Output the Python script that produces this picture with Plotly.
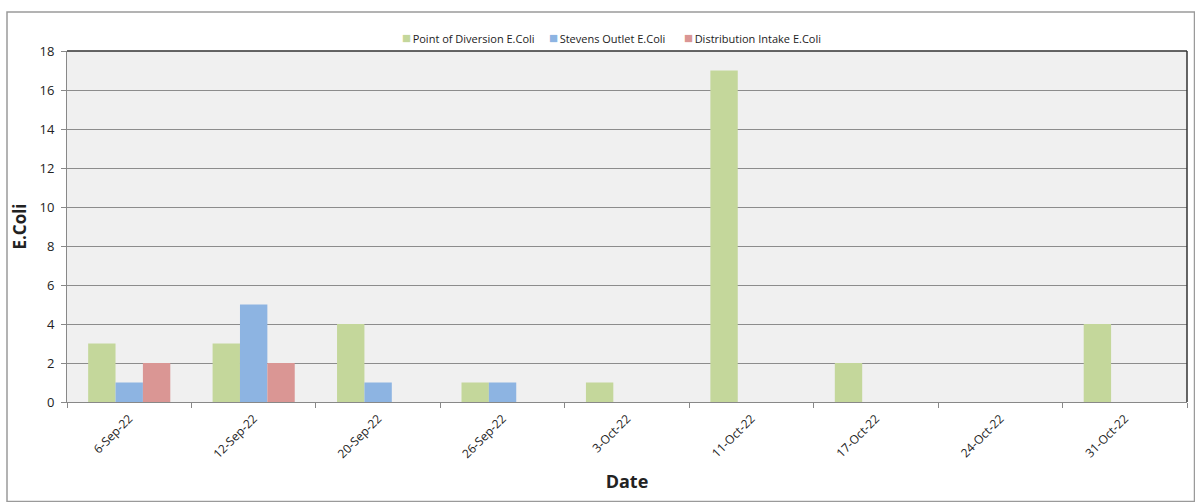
import plotly.graph_objects as go

dates = ["6-Sep-22", "12-Sep-22", "20-Sep-22", "26-Sep-22", "3-Oct-22",
         "11-Oct-22", "17-Oct-22", "24-Oct-22", "31-Oct-22"]
point_of_diversion = [3, 3, 4, 1, 1, 17, 2, None, 4]
stevens_outlet = [1, 5, 1, 1, None, None, None, None, None]
distribution_intake = [2, 2, None, None, None, None, None, None, None]

series_names = ["Point of Diversion E.Coli", "Stevens Outlet E.Coli", "Distribution Intake E.Coli"]
series_colors = ["#c4d79b", "#8db4e2", "#da9694"]
series_values = [point_of_diversion, stevens_outlet, distribution_intake]

W, H = 1195, 502
L, R, T, B = 67, 8, 51, 100
pw, ph = W - L - R, H - T - B

def px(x):
    return (x - L) / pw

def py(y):
    return (H - B - y) / ph

fig = go.Figure()
for name, color, vals in zip(series_names, series_colors, series_values):
    fig.add_bar(x=dates, y=vals, name=name, showlegend=False,
                marker=dict(color=color, line=dict(width=0)))

font = "Open Sans, Liberation Sans, sans-serif"

# legend drawn as annotations (compact symbol-text spacing like the original)
legend_x = [400, 547, 682]
annotations = []
for name, color, lx in zip(series_names, series_colors, legend_x):
    annotations.append(dict(
        xref="paper", yref="paper", x=px(lx), y=py(37), xanchor="left", yanchor="middle",
        showarrow=False,
        text=f'<span style="color:{color};font-size:15px">■</span><span style="font-size:6px"> </span>{name}',
        font=dict(size=11, color="#222", family=font)))

fig.update_layout(
    width=W, height=H,
    margin=dict(l=L, r=R, t=T, b=B),
    paper_bgcolor="white",
    plot_bgcolor="#f0f0f0",
    barmode="group",
    bargap=0.34,
    bargroupgap=0,
    font=dict(family=font, size=11, color="#222"),
    showlegend=False,
    annotations=annotations,
    xaxis=dict(type="category", tickson="boundaries", ticks="outside", ticklen=5,
               tickcolor="#888", showline=True, linecolor="#888", linewidth=1,
               tickangle=-45, tickfont=dict(size=12), showgrid=False,
               ticklabelstandoff=4,
               title=dict(text="<b>Date</b>", font=dict(size=18, color="#222"), standoff=14),
               range=[-0.5, 8.5]),
    yaxis=dict(range=[0, 18], dtick=2, ticks="outside", ticklen=5, tickcolor="#888",
               showline=True, linecolor="#888", linewidth=1,
               showgrid=True, gridcolor="#8c8c8c", gridwidth=1,
               tickfont=dict(size=13), ticklabelstandoff=4,
               title=dict(text="<b>E.Coli</b>", font=dict(size=17, color="#222"), standoff=8),
               zeroline=False),
    shapes=[
        dict(type="rect", xref="paper", yref="paper", x0=px(7), x1=px(1194.5),
             y0=py(501.5), y1=py(12), line=dict(color="#9a9a9a", width=1.5), layer="below"),
        dict(type="line", xref="paper", yref="paper", x0=0, x1=1, y0=1, y1=1,
             line=dict(color="#333", width=1.5)),
        dict(type="line", xref="paper", yref="paper", x0=1, x1=1, y0=0, y1=1,
             line=dict(color="#333", width=1.5)),
    ],
)

fig.write_html("out.html")
